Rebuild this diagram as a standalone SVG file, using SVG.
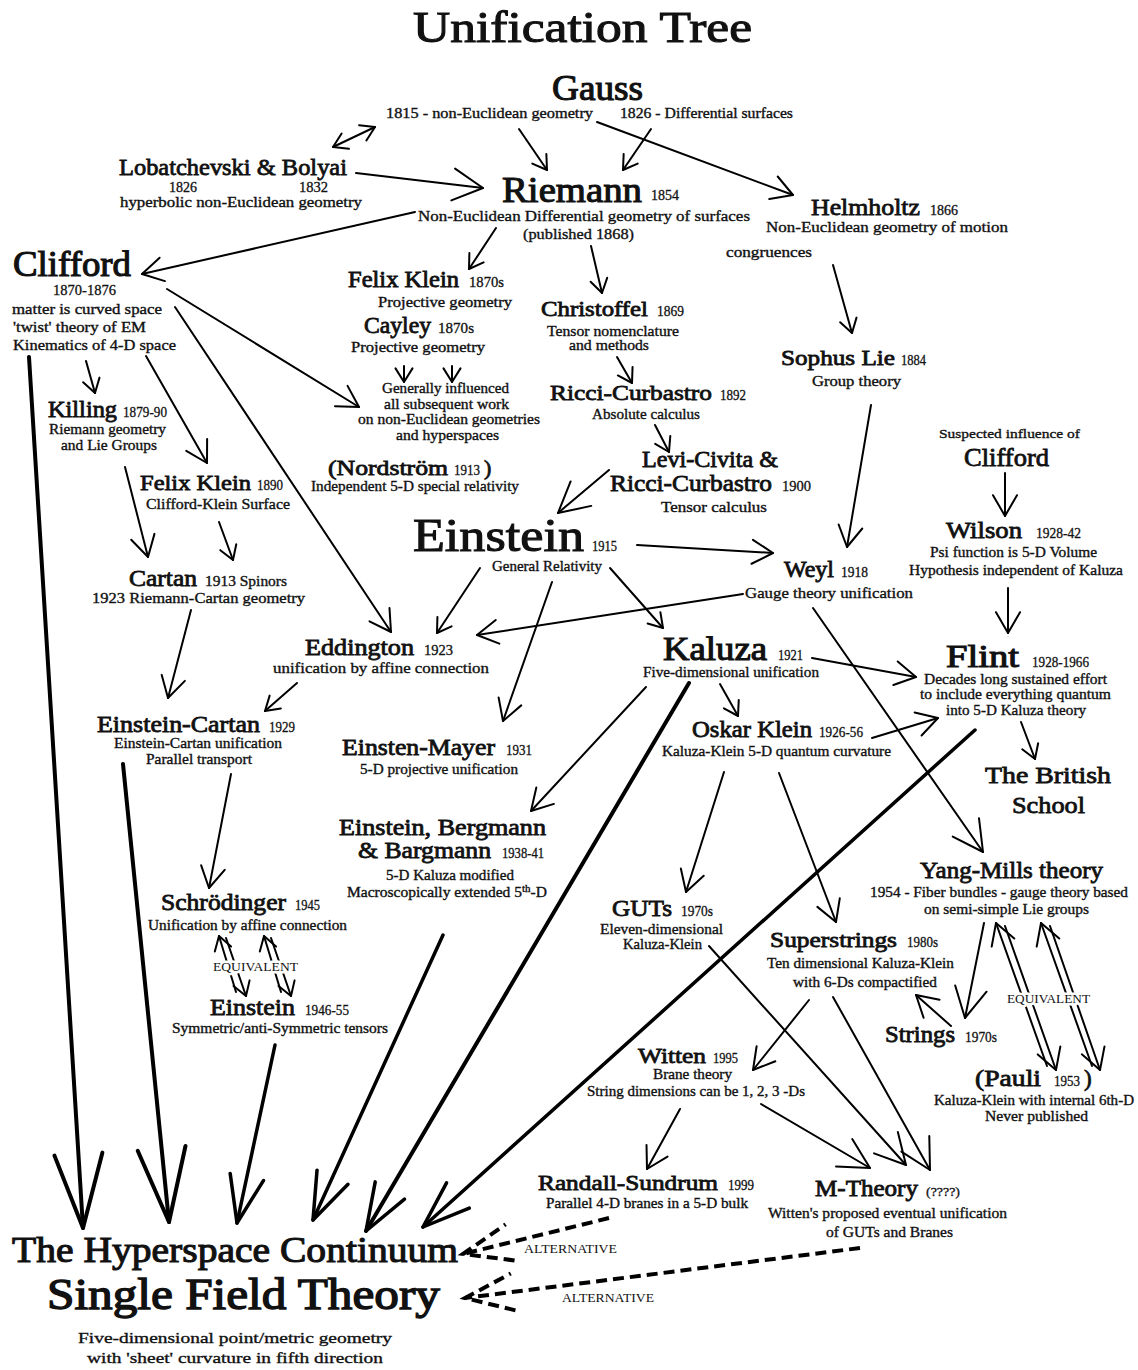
<svg xmlns="http://www.w3.org/2000/svg" width="1138" height="1370" viewBox="0 0 1138 1370">
<style>
text{font-family:"Liberation Serif","Times New Roman",serif;fill:#111}
.nm{font-size:23px;stroke:#111;stroke-width:0.8px}
.big{stroke-width:1.1px}
.yr{font-size:14px;stroke:#111;stroke-width:0.3px}
.ds{font-size:14px;stroke:#111;stroke-width:0.35px}
.eq{font-size:13px;paint-order:stroke;stroke:#fff;stroke-width:5px;stroke-linejoin:round}
.c{stroke:#000;stroke-width:2;fill:none;stroke-linecap:round}
.k{stroke:#000;stroke-width:4;fill:none;stroke-linecap:round}
.k3{stroke:#000;stroke-width:3.5;fill:none;stroke-linecap:round}
.dsh{stroke:#000;stroke-width:4;fill:none;stroke-dasharray:11 6}
</style>
<defs>
<marker id="s" markerUnits="userSpaceOnUse" orient="auto-start-reverse" overflow="visible" refX="0" refY="0" markerWidth="1" markerHeight="1"><path d="M-13.6,-8.5 L0,0 L-13.6,8.5" fill="none" stroke="#000" stroke-width="2" stroke-linecap="round" stroke-linejoin="round"/></marker>
<marker id="m" markerUnits="userSpaceOnUse" orient="auto-start-reverse" overflow="visible" refX="0" refY="0" markerWidth="1" markerHeight="1"><path d="M-20.8,-12 L0,0 L-20.8,12" fill="none" stroke="#000" stroke-width="2" stroke-linecap="round" stroke-linejoin="round"/></marker>
<marker id="b" markerUnits="userSpaceOnUse" orient="auto" overflow="visible" refX="0" refY="0" markerWidth="1" markerHeight="1"><path d="M-30,-16 L0,0 L-30,16" fill="none" stroke="#000" stroke-width="2" stroke-linecap="round" stroke-linejoin="round"/></marker>
<marker id="l" markerUnits="userSpaceOnUse" orient="auto" overflow="visible" refX="0" refY="0" markerWidth="1" markerHeight="1"><path d="M-47,-17 L0,0 L-47,17" fill="none" stroke="#000" stroke-width="3.5" stroke-linecap="round" stroke-linejoin="round"/></marker>
<marker id="xl" markerUnits="userSpaceOnUse" orient="auto" overflow="visible" refX="0" refY="0" markerWidth="1" markerHeight="1"><path d="M-74,-24 L0,0 L-74,24" fill="none" stroke="#000" stroke-width="4" stroke-linecap="round" stroke-linejoin="round"/></marker>
<marker id="d" markerUnits="userSpaceOnUse" orient="auto" overflow="visible" refX="0" refY="0" markerWidth="1" markerHeight="1"><path d="M-48.5,-18.6 L0,0 L-48.5,18.6" fill="none" stroke="#000" stroke-width="4" stroke-dasharray="11 6"/></marker>
</defs>
<rect width="1138" height="1370" fill="#fff"/>

<g id="connectors">
<line class="c" x1="333" y1="147" x2="375" y2="127" marker-start="url(#s)" marker-end="url(#s)"/>
<line class="c" x1="356" y1="173" x2="483" y2="188" marker-end="url(#b)"/>
<line class="c" x1="519" y1="129" x2="547" y2="170" marker-end="url(#s)"/>
<line class="c" x1="651" y1="129" x2="623" y2="170" marker-end="url(#s)"/>
<line class="c" x1="597" y1="122" x2="793" y2="195" marker-end="url(#m)"/>
<line class="c" x1="415" y1="212" x2="142" y2="274" marker-end="url(#m)"/>
<line class="c" x1="496" y1="228" x2="469" y2="269" marker-end="url(#s)"/>
<line class="c" x1="591" y1="246" x2="602" y2="293" marker-end="url(#s)"/>
<line class="c" x1="833" y1="265" x2="852" y2="333" marker-end="url(#s)"/>
<line class="c" x1="617" y1="357" x2="632" y2="383" marker-end="url(#s)"/>
<line class="c" x1="655" y1="425" x2="669" y2="452" marker-end="url(#s)"/>
<line class="c" x1="609" y1="470" x2="558" y2="513" marker-end="url(#b)"/>
<line class="c" x1="404" y1="366" x2="404" y2="382" marker-end="url(#s)"/>
<line class="c" x1="452" y1="366" x2="452" y2="382" marker-end="url(#s)"/>
<line class="c" x1="167" y1="289" x2="359" y2="407" marker-end="url(#m)"/>
<line class="c" x1="175" y1="307" x2="391" y2="632" marker-end="url(#m)"/>
<line class="c" x1="86" y1="361" x2="95" y2="393" marker-end="url(#s)"/>
<line class="c" x1="146" y1="356" x2="207" y2="463" marker-end="url(#m)"/>
<line class="k" x1="29" y1="357" x2="83" y2="1228" marker-end="url(#xl)"/>
<line class="c" x1="125" y1="467" x2="148" y2="557" marker-end="url(#m)"/>
<line class="c" x1="219" y1="522" x2="233" y2="560" marker-end="url(#s)"/>
<line class="c" x1="191" y1="610" x2="168" y2="698" marker-end="url(#m)"/>
<line class="c" x1="297" y1="683" x2="265" y2="711" marker-end="url(#s)"/>
<line class="k" x1="123" y1="764" x2="169" y2="1222" marker-end="url(#xl)"/>
<line class="c" x1="231" y1="774" x2="209" y2="888" marker-end="url(#m)"/>
<line class="k3" x1="275" y1="1045" x2="237" y2="1223" marker-end="url(#l)"/>
<line class="k3" x1="443" y1="935" x2="313" y2="1220" marker-end="url(#l)"/>
<line class="k" x1="689" y1="683" x2="366" y2="1231" marker-end="url(#l)"/>
<line class="k3" x1="975" y1="730" x2="423" y2="1227" marker-end="url(#l)"/>
<line class="c" x1="480" y1="568" x2="437" y2="633" marker-end="url(#s)"/>
<line class="c" x1="552" y1="582" x2="503" y2="721" marker-end="url(#m)"/>
<line class="c" x1="610" y1="568" x2="663" y2="628" marker-end="url(#s)"/>
<line class="c" x1="637" y1="545" x2="773" y2="553" marker-end="url(#m)"/>
<line class="c" x1="743" y1="594" x2="477" y2="635" marker-end="url(#m)"/>
<line class="c" x1="871" y1="405" x2="847" y2="547" marker-end="url(#m)"/>
<line class="c" x1="1005" y1="473" x2="1005" y2="516" marker-end="url(#m)"/>
<line class="c" x1="1008" y1="588" x2="1008" y2="633" marker-end="url(#m)"/>
<line class="c" x1="812" y1="658" x2="916" y2="677" marker-end="url(#m)"/>
<line class="c" x1="720" y1="684" x2="738" y2="716" marker-end="url(#s)"/>
<line class="c" x1="872" y1="738" x2="938" y2="718" marker-end="url(#m)"/>
<line class="c" x1="646" y1="687" x2="531" y2="811" marker-end="url(#m)"/>
<line class="c" x1="813" y1="608" x2="983" y2="852" marker-end="url(#b)"/>
<line class="c" x1="1021" y1="722" x2="1035" y2="759" marker-end="url(#s)"/>
<line class="c" x1="724" y1="772" x2="686" y2="892" marker-end="url(#m)"/>
<line class="c" x1="779" y1="773" x2="836" y2="922" marker-end="url(#m)"/>
<line class="c" x1="709" y1="946" x2="906" y2="1165" marker-end="url(#b)"/>
<line class="c" x1="809" y1="1000" x2="753" y2="1070" marker-end="url(#m)"/>
<line class="c" x1="833" y1="997" x2="930" y2="1170" marker-end="url(#b)"/>
<line class="c" x1="761" y1="1104" x2="870" y2="1168" marker-end="url(#b)"/>
<line class="c" x1="680" y1="1109" x2="647" y2="1169" marker-end="url(#m)"/>
<line class="c" x1="984" y1="923" x2="965" y2="1018" marker-end="url(#b)"/>
<line class="c" x1="951" y1="1026" x2="916" y2="995" marker-end="url(#m)"/>
<line class="c" x1="1047" y1="1066" x2="996" y2="923" marker-end="url(#m)"/>
<line class="c" x1="1005" y1="926" x2="1056" y2="1070" marker-end="url(#m)"/>
<line class="c" x1="1092" y1="1066" x2="1041" y2="923" marker-end="url(#m)"/>
<line class="c" x1="1050" y1="926" x2="1100" y2="1070" marker-end="url(#m)"/>
<line class="c" x1="236" y1="992" x2="219" y2="936" marker-end="url(#s)"/>
<line class="c" x1="226" y1="938" x2="246" y2="996" marker-end="url(#s)"/>
<line class="c" x1="281" y1="992" x2="264" y2="936" marker-end="url(#s)"/>
<line class="c" x1="271" y1="938" x2="291" y2="996" marker-end="url(#s)"/>
<line class="dsh" x1="609" y1="1218" x2="463" y2="1254" marker-end="url(#d)"/>
<line class="dsh" x1="860" y1="1248" x2="465" y2="1298" marker-end="url(#d)"/>
</g>

<g id="title"><text class="nm big" x="413" y="42" textLength="339" lengthAdjust="spacingAndGlyphs" style="font-size:45px">Unification Tree</text></g>

<g id="gauss">
<text class="nm big" x="552" y="100" textLength="91" lengthAdjust="spacingAndGlyphs" style="font-size:35px">Gauss</text>
<text class="ds" x="386" y="118" textLength="207" lengthAdjust="spacingAndGlyphs">1815 - non-Euclidean geometry</text>
<text class="ds" x="620" y="118" textLength="173" lengthAdjust="spacingAndGlyphs">1826 - Differential surfaces</text>
</g>

<g id="lobatchevski">
<text class="nm" x="119" y="175" textLength="228" lengthAdjust="spacingAndGlyphs" style="font-size:24px">Lobatchevski &amp; Bolyai</text>
<text class="yr" x="169" y="192" textLength="28" lengthAdjust="spacingAndGlyphs">1826</text>
<text class="yr" x="299" y="192" textLength="29" lengthAdjust="spacingAndGlyphs">1832</text>
<text class="ds" x="120" y="207" textLength="242" lengthAdjust="spacingAndGlyphs">hyperbolic non-Euclidean geometry</text>
</g>

<g id="riemann">
<text class="nm big" x="502" y="202" textLength="140" lengthAdjust="spacingAndGlyphs" style="font-size:36px">Riemann</text>
<text class="yr" x="651" y="200" textLength="28" lengthAdjust="spacingAndGlyphs">1854</text>
<text class="ds" x="418" y="221" textLength="332" lengthAdjust="spacingAndGlyphs" style="font-size:15px">Non-Euclidean  Differential geometry of surfaces</text>
<text class="ds" x="523" y="239" textLength="111" lengthAdjust="spacingAndGlyphs" style="font-size:15px">(published 1868)</text>
</g>

<g id="helmholtz">
<text class="nm" x="811" y="215" textLength="109" lengthAdjust="spacingAndGlyphs" style="font-size:24px">Helmholtz</text>
<text class="yr" x="930" y="215" textLength="28" lengthAdjust="spacingAndGlyphs">1866</text>
<text class="ds" x="766" y="232" textLength="242" lengthAdjust="spacingAndGlyphs" style="font-size:15px">Non-Euclidean geometry of motion</text>
<text class="ds" x="726" y="257" textLength="86" lengthAdjust="spacingAndGlyphs">congruences</text>
</g>

<g id="clifford">
<text class="nm big" x="13" y="276" textLength="118" lengthAdjust="spacingAndGlyphs" style="font-size:35px">Clifford</text>
<text class="yr" x="53" y="295" textLength="63" lengthAdjust="spacingAndGlyphs">1870-1876</text>
<text class="ds" x="12" y="314" textLength="150" lengthAdjust="spacingAndGlyphs">matter is curved space</text>
<text class="ds" x="13" y="332" textLength="133" lengthAdjust="spacingAndGlyphs">'twist' theory of EM</text>
<text class="ds" x="13" y="350" textLength="163" lengthAdjust="spacingAndGlyphs">Kinematics of 4-D space</text>
</g>

<g id="felix-klein-1870">
<text class="nm" x="348" y="287" textLength="111" lengthAdjust="spacingAndGlyphs">Felix Klein</text>
<text class="yr" x="469" y="287" textLength="35" lengthAdjust="spacingAndGlyphs">1870s</text>
<text class="ds" x="378" y="307" textLength="134" lengthAdjust="spacingAndGlyphs">Projective geometry</text>
</g>

<g id="cayley">
<text class="nm" x="364" y="333" textLength="67" lengthAdjust="spacingAndGlyphs">Cayley</text>
<text class="yr" x="438" y="333" textLength="36" lengthAdjust="spacingAndGlyphs">1870s</text>
<text class="ds" x="351" y="352" textLength="134" lengthAdjust="spacingAndGlyphs">Projective geometry</text>
</g>

<g id="generally-influenced">
<text class="ds" x="382" y="393" textLength="127" lengthAdjust="spacingAndGlyphs">Generally influenced</text>
<text class="ds" x="384" y="409" textLength="125" lengthAdjust="spacingAndGlyphs">all subsequent work</text>
<text class="ds" x="358" y="424" textLength="182" lengthAdjust="spacingAndGlyphs">on non-Euclidean geometries</text>
<text class="ds" x="396" y="440" textLength="103" lengthAdjust="spacingAndGlyphs">and hyperspaces</text>
</g>

<g id="nordstrom">
<text class="nm" x="328" y="475" textLength="120" lengthAdjust="spacingAndGlyphs" style="font-size:22px">(Nordström</text>
<text class="yr" x="454" y="475" textLength="26" lengthAdjust="spacingAndGlyphs">1913</text>
<text class="nm" x="484" y="475" style="font-size:22px">)</text>
<text class="ds" x="311" y="491" textLength="208" lengthAdjust="spacingAndGlyphs">Independent 5-D special relativity</text>
</g>

<g id="christoffel">
<text class="nm" x="541" y="316" textLength="107" lengthAdjust="spacingAndGlyphs" style="font-size:22px">Christoffel</text>
<text class="yr" x="657" y="316" textLength="27" lengthAdjust="spacingAndGlyphs">1869</text>
<text class="ds" x="547" y="336" textLength="132" lengthAdjust="spacingAndGlyphs">Tensor nomenclature</text>
<text class="ds" x="569" y="350" textLength="80" lengthAdjust="spacingAndGlyphs">and methods</text>
</g>

<g id="ricci-curbastro">
<text class="nm" x="550" y="400" textLength="162" lengthAdjust="spacingAndGlyphs" style="font-size:22px">Ricci-Curbastro</text>
<text class="yr" x="720" y="400" textLength="26" lengthAdjust="spacingAndGlyphs">1892</text>
<text class="ds" x="592" y="419" textLength="108" lengthAdjust="spacingAndGlyphs">Absolute calculus</text>
</g>

<g id="sophus-lie">
<text class="nm" x="781" y="365" textLength="114" lengthAdjust="spacingAndGlyphs" style="font-size:22px">Sophus Lie</text>
<text class="yr" x="901" y="365" textLength="25" lengthAdjust="spacingAndGlyphs">1884</text>
<text class="ds" x="812" y="386" textLength="89" lengthAdjust="spacingAndGlyphs">Group theory</text>
</g>

<g id="killing">
<text class="nm" x="48" y="417" textLength="69" lengthAdjust="spacingAndGlyphs">Killing</text>
<text class="yr" x="123" y="417" textLength="44" lengthAdjust="spacingAndGlyphs">1879-90</text>
<text class="ds" x="49" y="434" textLength="117" lengthAdjust="spacingAndGlyphs">Riemann geometry</text>
<text class="ds" x="61" y="450" textLength="96" lengthAdjust="spacingAndGlyphs">and Lie Groups</text>
</g>

<g id="levi-civita">
<text class="nm" x="642" y="467" textLength="136" lengthAdjust="spacingAndGlyphs">Levi-Civita &amp;</text>
<text class="nm" x="610" y="491" textLength="162" lengthAdjust="spacingAndGlyphs">Ricci-Curbastro</text>
<text class="yr" x="782" y="491" textLength="29" lengthAdjust="spacingAndGlyphs">1900</text>
<text class="ds" x="661" y="512" textLength="106" lengthAdjust="spacingAndGlyphs">Tensor calculus</text>
</g>

<g id="suspected-clifford">
<text class="ds" x="939" y="438" textLength="141" lengthAdjust="spacingAndGlyphs" style="font-size:13.5px">Suspected influence of</text>
<text class="nm" x="964" y="466" textLength="85" lengthAdjust="spacingAndGlyphs" style="font-size:26px">Clifford</text>
</g>

<g id="felix-klein-1890">
<text class="nm" x="140" y="490" textLength="111" lengthAdjust="spacingAndGlyphs" style="font-size:22px">Felix Klein</text>
<text class="yr" x="257" y="490" textLength="26" lengthAdjust="spacingAndGlyphs">1890</text>
<text class="ds" x="146" y="509" textLength="144" lengthAdjust="spacingAndGlyphs">Clifford-Klein Surface</text>
</g>

<g id="einstein-1915">
<text class="nm big" x="413" y="551" textLength="171" lengthAdjust="spacingAndGlyphs" style="font-size:47px">Einstein</text>
<text class="yr" x="592" y="551" textLength="25" lengthAdjust="spacingAndGlyphs">1915</text>
<text class="ds" x="492" y="571" textLength="110" lengthAdjust="spacingAndGlyphs">General Relativity</text>
</g>

<g id="wilson">
<text class="nm" x="946" y="538" textLength="76" lengthAdjust="spacingAndGlyphs" style="font-size:24px">Wilson</text>
<text class="yr" x="1036" y="538" textLength="45" lengthAdjust="spacingAndGlyphs">1928-42</text>
<text class="ds" x="930" y="557" textLength="167" lengthAdjust="spacingAndGlyphs">Psi function is 5-D Volume</text>
<text class="ds" x="909" y="575" textLength="214" lengthAdjust="spacingAndGlyphs">Hypothesis independent of Kaluza</text>
</g>

<g id="weyl">
<text class="nm" x="784" y="577" textLength="50" lengthAdjust="spacingAndGlyphs">Weyl</text>
<text class="yr" x="841" y="577" textLength="27" lengthAdjust="spacingAndGlyphs">1918</text>
<text class="ds" x="745" y="598" textLength="168" lengthAdjust="spacingAndGlyphs" style="font-size:15px">Gauge theory unification</text>
</g>

<g id="cartan">
<text class="nm" x="129" y="586" textLength="68" lengthAdjust="spacingAndGlyphs">Cartan</text>
<text class="ds" x="205" y="586" textLength="82" lengthAdjust="spacingAndGlyphs" style="font-size:14.5px">1913 Spinors</text>
<text class="ds" x="92" y="603" textLength="213" lengthAdjust="spacingAndGlyphs" style="font-size:14.5px">1923 Riemann-Cartan geometry</text>
</g>

<g id="eddington">
<text class="nm" x="305" y="655" textLength="109" lengthAdjust="spacingAndGlyphs">Eddington</text>
<text class="yr" x="424" y="655" textLength="29" lengthAdjust="spacingAndGlyphs">1923</text>
<text class="ds" x="273" y="673" textLength="216" lengthAdjust="spacingAndGlyphs" style="font-size:15px">unification by affine connection</text>
</g>

<g id="kaluza">
<text class="nm big" x="663" y="660" textLength="104" lengthAdjust="spacingAndGlyphs" style="font-size:33px">Kaluza</text>
<text class="yr" x="778" y="660" textLength="25" lengthAdjust="spacingAndGlyphs">1921</text>
<text class="ds" x="643" y="677" textLength="176" lengthAdjust="spacingAndGlyphs">Five-dimensional unification</text>
</g>

<g id="flint">
<text class="nm big" x="946" y="667" textLength="73" lengthAdjust="spacingAndGlyphs" style="font-size:32px">Flint</text>
<text class="yr" x="1032" y="667" textLength="57" lengthAdjust="spacingAndGlyphs">1928-1966</text>
<text class="ds" x="924" y="684" textLength="183" lengthAdjust="spacingAndGlyphs">Decades long sustained effort</text>
<text class="ds" x="920" y="699" textLength="191" lengthAdjust="spacingAndGlyphs">to include everything quantum</text>
<text class="ds" x="946" y="715" textLength="140" lengthAdjust="spacingAndGlyphs">into 5-D Kaluza theory</text>
</g>

<g id="einstein-cartan">
<text class="nm" x="97" y="732" textLength="163" lengthAdjust="spacingAndGlyphs">Einstein-Cartan</text>
<text class="yr" x="269" y="732" textLength="26" lengthAdjust="spacingAndGlyphs">1929</text>
<text class="ds" x="114" y="748" textLength="168" lengthAdjust="spacingAndGlyphs">Einstein-Cartan unification</text>
<text class="ds" x="146" y="764" textLength="106" lengthAdjust="spacingAndGlyphs">Parallel transport</text>
</g>

<g id="oskar-klein">
<text class="nm" x="692" y="737" textLength="120" lengthAdjust="spacingAndGlyphs">Oskar Klein</text>
<text class="yr" x="819" y="737" textLength="44" lengthAdjust="spacingAndGlyphs">1926-56</text>
<text class="ds" x="662" y="756" textLength="229" lengthAdjust="spacingAndGlyphs">Kaluza-Klein 5-D quantum curvature</text>
</g>

<g id="einsten-mayer">
<text class="nm" x="342" y="755" textLength="153" lengthAdjust="spacingAndGlyphs">Einsten-Mayer</text>
<text class="yr" x="506" y="755" textLength="26" lengthAdjust="spacingAndGlyphs">1931</text>
<text class="ds" x="360" y="774" textLength="158" lengthAdjust="spacingAndGlyphs">5-D projective unification</text>
</g>

<g id="british-school">
<text class="nm" x="985" y="783" textLength="126" lengthAdjust="spacingAndGlyphs" style="font-size:24px">The British</text>
<text class="nm" x="1012" y="813" textLength="73" lengthAdjust="spacingAndGlyphs" style="font-size:24px">School</text>
</g>

<g id="einstein-bergmann">
<text class="nm" x="339" y="835" textLength="207" lengthAdjust="spacingAndGlyphs">Einstein, Bergmann</text>
<text class="nm" x="358" y="858" textLength="133" lengthAdjust="spacingAndGlyphs">&amp; Bargmann</text>
<text class="yr" x="502" y="858" textLength="42" lengthAdjust="spacingAndGlyphs">1938-41</text>
<text class="ds" x="386" y="880" textLength="128" lengthAdjust="spacingAndGlyphs">5-D Kaluza modified</text>
<text class="ds" x="347" y="897" textLength="200" lengthAdjust="spacingAndGlyphs">Macroscopically extended 5<tspan dy="-5" font-size="10">th</tspan><tspan dy="5">-D</tspan></text>
</g>

<g id="yang-mills">
<text class="nm" x="920" y="878" textLength="183" lengthAdjust="spacingAndGlyphs" style="font-size:24px">Yang-Mills theory</text>
<text class="ds" x="870" y="897" textLength="258" lengthAdjust="spacingAndGlyphs">1954 - Fiber bundles - gauge theory based</text>
<text class="ds" x="924" y="914" textLength="165" lengthAdjust="spacingAndGlyphs">on semi-simple Lie groups</text>
</g>

<g id="schrodinger">
<text class="nm" x="161" y="910" textLength="125" lengthAdjust="spacingAndGlyphs">Schrödinger</text>
<text class="yr" x="295" y="910" textLength="25" lengthAdjust="spacingAndGlyphs">1945</text>
<text class="ds" x="148" y="930" textLength="199" lengthAdjust="spacingAndGlyphs">Unification by affine connection</text>
</g>

<g id="guts">
<text class="nm" x="612" y="916" textLength="60" lengthAdjust="spacingAndGlyphs">GUTs</text>
<text class="yr" x="681" y="916" textLength="32" lengthAdjust="spacingAndGlyphs">1970s</text>
<text class="ds" x="600" y="934" textLength="123" lengthAdjust="spacingAndGlyphs">Eleven-dimensional</text>
<text class="ds" x="623" y="949" textLength="79" lengthAdjust="spacingAndGlyphs">Kaluza-Klein</text>
</g>

<g id="superstrings">
<text class="nm" x="770" y="947" textLength="127" lengthAdjust="spacingAndGlyphs" style="font-size:22px">Superstrings</text>
<text class="yr" x="907" y="947" textLength="31" lengthAdjust="spacingAndGlyphs">1980s</text>
<text class="ds" x="767" y="968" textLength="187" lengthAdjust="spacingAndGlyphs">Ten dimensional Kaluza-Klein</text>
<text class="ds" x="793" y="987" textLength="144" lengthAdjust="spacingAndGlyphs">with 6-Ds compactified</text>
</g>

<g id="einstein-1946">
<text class="nm" x="210" y="1015" textLength="85" lengthAdjust="spacingAndGlyphs">Einstein</text>
<text class="yr" x="305" y="1015" textLength="44" lengthAdjust="spacingAndGlyphs">1946-55</text>
<text class="ds" x="172" y="1033" textLength="216" lengthAdjust="spacingAndGlyphs">Symmetric/anti-Symmetric tensors</text>
</g>

<g id="strings">
<text class="nm" x="885" y="1042" textLength="70" lengthAdjust="spacingAndGlyphs">Strings</text>
<text class="yr" x="965" y="1042" textLength="32" lengthAdjust="spacingAndGlyphs">1970s</text>
</g>

<g id="witten">
<text class="nm" x="638" y="1063" textLength="68" lengthAdjust="spacingAndGlyphs" style="font-size:22px">Witten</text>
<text class="yr" x="713" y="1063" textLength="25" lengthAdjust="spacingAndGlyphs">1995</text>
<text class="ds" x="653" y="1079" textLength="79" lengthAdjust="spacingAndGlyphs">Brane theory</text>
<text class="ds" x="587" y="1096" textLength="218" lengthAdjust="spacingAndGlyphs">String dimensions can be 1, 2, 3 -Ds</text>
</g>

<g id="pauli">
<text class="nm" x="975" y="1086" textLength="66" lengthAdjust="spacingAndGlyphs">(Pauli</text>
<text class="yr" x="1054" y="1086" textLength="26" lengthAdjust="spacingAndGlyphs">1953</text>
<text class="nm" x="1084" y="1086">)</text>
<text class="ds" x="934" y="1105" textLength="200" lengthAdjust="spacingAndGlyphs">Kaluza-Klein with internal 6th-D</text>
<text class="ds" x="985" y="1121" textLength="103" lengthAdjust="spacingAndGlyphs">Never published</text>
</g>

<g id="randall-sundrum">
<text class="nm" x="538" y="1190" textLength="180" lengthAdjust="spacingAndGlyphs" style="font-size:22px">Randall-Sundrum</text>
<text class="yr" x="728" y="1190" textLength="26" lengthAdjust="spacingAndGlyphs">1999</text>
<text class="ds" x="546" y="1208" textLength="202" lengthAdjust="spacingAndGlyphs">Parallel 4-D branes in a 5-D bulk</text>
</g>

<g id="m-theory">
<text class="nm" x="815" y="1196" textLength="103" lengthAdjust="spacingAndGlyphs">M-Theory</text>
<text class="yr" x="926" y="1196" textLength="34" lengthAdjust="spacingAndGlyphs" style="font-size:13px">(????)</text>
<text class="ds" x="768" y="1218" textLength="239" lengthAdjust="spacingAndGlyphs">Witten's proposed eventual unification</text>
<text class="ds" x="826" y="1237" textLength="127" lengthAdjust="spacingAndGlyphs">of GUTs and Branes</text>
</g>

<g id="hyperspace">
<text class="nm big" x="12" y="1262" textLength="446" lengthAdjust="spacingAndGlyphs" style="font-size:36px">The Hyperspace Continuum</text>
<text class="nm big" x="47" y="1309" textLength="393" lengthAdjust="spacingAndGlyphs" style="font-size:44px;stroke-width:1.4px">Single Field Theory</text>
<text class="ds" x="78" y="1343" textLength="314" lengthAdjust="spacingAndGlyphs" style="font-size:15px">Five-dimensional point/metric geometry</text>
<text class="ds" x="87" y="1363" textLength="296" lengthAdjust="spacingAndGlyphs" style="font-size:15px">with 'sheet' curvature in fifth direction</text>
</g>

<g id="labels">
<text class="eq" x="213" y="971" textLength="85" lengthAdjust="spacingAndGlyphs">EQUIVALENT</text>
<text class="eq" x="1007" y="1003" textLength="83" lengthAdjust="spacingAndGlyphs">EQUIVALENT</text>
<text class="eq" x="524" y="1253" textLength="93" lengthAdjust="spacingAndGlyphs">ALTERNATIVE</text>
<text class="eq" x="562" y="1302" textLength="92" lengthAdjust="spacingAndGlyphs">ALTERNATIVE</text>
</g>
</svg>
